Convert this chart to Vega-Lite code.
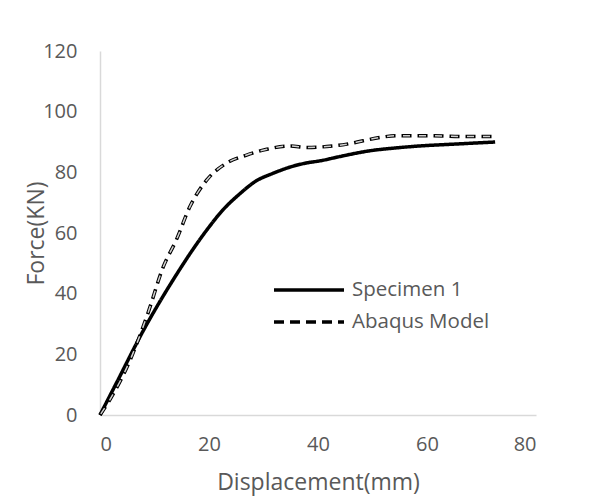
{
  "$schema": "https://vega.github.io/schema/vega-lite/v6.json",
  "width": 436,
  "height": 364,
  "autosize": {"type": "none"},
  "padding": {"left": 100, "top": 51, "right": 75, "bottom": 84},
  "background": "white",
  "config": {
    "view": {"stroke": null},
    "font": "Open Sans",
    "axis": {
      "domainColor": "#d9d9d9",
      "domainWidth": 1.5,
      "ticks": false,
      "grid": false,
      "labelFontSize": 20,
      "labelColor": "#595959",
      "titleFontSize": 23,
      "titleColor": "#595959",
      "titleFontWeight": "normal"
    },
    "legend": {
      "orient": "none",
      "legendX": 172,
      "title": null,
      "padding": 0,
      "symbolType": "stroke",
      "symbolSize": 4900,
      "symbolStrokeWidth": 3.5,
      "symbolStrokeColor": "black",
      "labelFontSize": 20.5,
      "labelColor": "#595959",
      "labelOffset": 6
    }
  },
  "data": {
    "values": [
      {"x": 0, "y": 0, "series": "Specimen 1"},
      {"x": 3, "y": 10.5, "series": "Specimen 1"},
      {"x": 8, "y": 28, "series": "Specimen 1"},
      {"x": 13.4, "y": 44.5, "series": "Specimen 1"},
      {"x": 19.6, "y": 61, "series": "Specimen 1"},
      {"x": 22.5, "y": 67.5, "series": "Specimen 1"},
      {"x": 25.7, "y": 73, "series": "Specimen 1"},
      {"x": 28.5, "y": 77, "series": "Specimen 1"},
      {"x": 31.8, "y": 79.7, "series": "Specimen 1"},
      {"x": 35, "y": 81.8, "series": "Specimen 1"},
      {"x": 37.9, "y": 83.1, "series": "Specimen 1"},
      {"x": 40.4, "y": 83.8, "series": "Specimen 1"},
      {"x": 44, "y": 85.2, "series": "Specimen 1"},
      {"x": 49.5, "y": 87.1, "series": "Specimen 1"},
      {"x": 54, "y": 88, "series": "Specimen 1"},
      {"x": 58.7, "y": 88.7, "series": "Specimen 1"},
      {"x": 65, "y": 89.3, "series": "Specimen 1"},
      {"x": 72.5, "y": 90, "series": "Specimen 1"},
      {"x": 0, "y": 0, "series": "Abaqus Model"},
      {"x": 1.8, "y": 5, "series": "Abaqus Model"},
      {"x": 5.5, "y": 18, "series": "Abaqus Model"},
      {"x": 8.8, "y": 33.6, "series": "Abaqus Model"},
      {"x": 11.6, "y": 48.8, "series": "Abaqus Model"},
      {"x": 14, "y": 57.7, "series": "Abaqus Model"},
      {"x": 16.5, "y": 68.7, "series": "Abaqus Model"},
      {"x": 19.6, "y": 77.5, "series": "Abaqus Model"},
      {"x": 23.2, "y": 83, "series": "Abaqus Model"},
      {"x": 26.9, "y": 85.7, "series": "Abaqus Model"},
      {"x": 30.6, "y": 87.6, "series": "Abaqus Model"},
      {"x": 34.9, "y": 88.7, "series": "Abaqus Model"},
      {"x": 38, "y": 88.2, "series": "Abaqus Model"},
      {"x": 41.6, "y": 88.5, "series": "Abaqus Model"},
      {"x": 45.3, "y": 89.3, "series": "Abaqus Model"},
      {"x": 48.3, "y": 90.4, "series": "Abaqus Model"},
      {"x": 51.4, "y": 91.5, "series": "Abaqus Model"},
      {"x": 54.4, "y": 92.1, "series": "Abaqus Model"},
      {"x": 60.6, "y": 92.1, "series": "Abaqus Model"},
      {"x": 66.7, "y": 91.8, "series": "Abaqus Model"},
      {"x": 72, "y": 91.8, "series": "Abaqus Model"}
    ]
  },
  "encoding": {
    "x": {
      "field": "x",
      "type": "quantitative",
      "scale": {"domain": [0, 80]},
      "axis": {"values": [0, 20, 40, 60, 80], "title": "Displacement(mm)", "labelPadding": 19, "titlePadding": 17}
    },
    "y": {
      "field": "y",
      "type": "quantitative",
      "scale": {"domain": [0, 120]},
      "axis": {"values": [0, 20, 40, 60, 80, 100, 120], "title": "Force(KN)", "labelPadding": 23, "titlePadding": -6}
    }
  },
  "layer": [
    {
      "transform": [{"filter": "datum.series === 'Specimen 1'"}],
      "mark": {"type": "line", "interpolate": "monotone", "strokeWidth": 3.5, "color": "black", "strokeCap": "butt"},
      "encoding": {
        "strokeDash": {
          "field": "series",
          "type": "nominal",
          "scale": {"domain": ["Specimen 1"], "range": [[1, 0]]},
          "legend": {"legendY": 202}
        }
      }
    },
    {
      "transform": [{"filter": "datum.series === 'Abaqus Model'"}],
      "mark": {"type": "line", "interpolate": "monotone", "strokeWidth": 3.5, "color": "black", "strokeCap": "butt"},
      "encoding": {
        "strokeDash": {
          "field": "series",
          "type": "nominal",
          "scale": {"domain": ["Abaqus Model"], "range": [[10, 6]]},
          "legend": {"legendY": 234}
        }
      }
    },
    {
      "transform": [{"filter": "datum.series === 'Abaqus Model'"}],
      "mark": {"type": "line", "interpolate": "monotone", "strokeWidth": 1.5, "color": "#d0d0d0", "strokeDash": [7, 9], "strokeDashOffset": 14.5, "strokeCap": "butt"},
      "encoding": {}
    }
  ],
  "resolve": {"scale": {"strokeDash": "independent"}, "legend": {"strokeDash": "independent"}}
}
